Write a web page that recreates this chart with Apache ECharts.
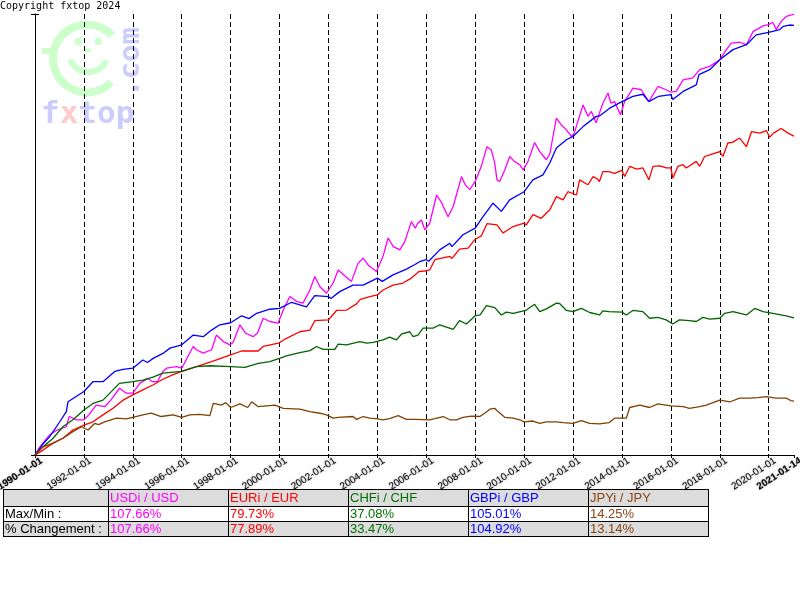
<!DOCTYPE html>
<html><head><meta charset="utf-8">
<script src="https://cdn.jsdelivr.net/npm/echarts@6/dist/echarts.min.js"></script>
<style>html,body{margin:0;padding:0;background:#fff}#c{width:800px;height:600px}</style>
</head><body><div id="c"></div>
<script>
// [decimal year, % change since 1990-01-01]
const usdData = [[1990.0,0],[1990.2,2.0],[1990.6,4.9],[1990.9,6.1],[1991.28,6.9],[1991.4,9.4],[1991.7,8.6],[1992.0,8.6],[1992.2,9.8],[1992.5,12.2],[1992.85,11.8],[1993.1,13.4],[1993.46,16.3],[1993.73,15.1],[1994.0,15.1],[1994.28,17.5],[1994.62,18.7],[1994.8,17.9],[1995.0,17.9],[1995.23,20.4],[1995.38,21.2],[1995.79,21.6],[1996.0,21.2],[1996.47,26.5],[1996.6,25.7],[1996.88,24.9],[1997.22,25.7],[1997.42,29.3],[1997.7,27.7],[1997.97,26.9],[1998.1,27.5],[1998.38,31.8],[1998.6,29.8],[1998.92,28.9],[1999.1,29.8],[1999.33,33.4],[1999.6,32.6],[1999.94,32.2],[2000.15,35.4],[2000.42,38.7],[2000.7,37.5],[2000.96,37.1],[2001.24,40.3],[2001.44,43.6],[2001.65,41.1],[2001.92,39.5],[2002.19,42.0],[2002.4,45.2],[2002.7,43.6],[2002.94,42.4],[2003.21,46.8],[2003.42,48.1],[2003.65,46.2],[2003.96,44.8],[2004.23,48.5],[2004.44,53.0],[2004.65,50.9],[2004.92,50.1],[2005.12,52.1],[2005.39,57.0],[2005.55,55.4],[2005.65,56.6],[2005.8,57.4],[2005.94,55.0],[2006.14,56.6],[2006.42,63.5],[2006.6,61.9],[2006.89,58.2],[2007.1,60.7],[2007.44,68.0],[2007.6,65.9],[2007.78,64.8],[2008.0,66.8],[2008.25,70.5],[2008.48,75.3],[2008.66,74.5],[2008.8,71.3],[2008.89,67.2],[2009.0,66.8],[2009.21,69.6],[2009.41,72.9],[2009.6,71.7],[2009.82,70.9],[2009.96,69.6],[2010.16,71.7],[2010.43,76.3],[2010.64,74.1],[2010.91,72.1],[2011.05,73.5],[2011.32,82.3],[2011.52,80.6],[2011.73,79.4],[2011.93,77.8],[2012.05,78.6],[2012.2,81.5],[2012.41,85.5],[2012.61,82.7],[2012.75,83.9],[2012.95,81.1],[2013.08,83.5],[2013.22,85.9],[2013.43,88.4],[2013.55,85.9],[2013.7,86.3],[2013.94,83.1],[2014.11,86.3],[2014.45,89.6],[2014.79,89.2],[2015.1,86.3],[2015.47,90.0],[2015.81,89.2],[2016.0,88.6],[2016.22,88.8],[2016.5,91.6],[2016.9,92.1],[2017.18,94.1],[2017.59,94.9],[2018.0,96.5],[2018.27,99.0],[2018.47,100.6],[2018.81,100.8],[2019.09,100.2],[2019.36,103.4],[2019.77,104.8],[2020.0,105.1],[2020.17,105.7],[2020.31,103.9],[2020.51,105.9],[2020.72,107.1],[2021.036,107.66]];
const eurData = [[1990.0,0],[1990.33,1.2],[1990.74,2.9],[1991.14,4.1],[1991.55,6.1],[1992.0,7.3],[1992.37,8.1],[1992.78,9.8],[1993.19,11.4],[1993.6,13.4],[1994.0,14.7],[1994.41,15.9],[1994.82,17.1],[1995.23,18.5],[1995.6,19.5],[1996.0,20.4],[1996.6,21.6],[1997.22,22.8],[1997.97,24.4],[1998.45,25.4],[1999.13,25.4],[1999.33,26.5],[2000.0,27.4],[2000.28,28.5],[2000.83,30.1],[2001.24,30.5],[2001.44,32.8],[2002.0,33.0],[2002.33,35.3],[2002.74,35.4],[2003.15,36.9],[2003.3,38.0],[2003.69,38.7],[2004.0,39.1],[2004.23,40.3],[2004.64,41.5],[2005.05,42.0],[2005.39,43.2],[2005.7,44.8],[2006.0,45.0],[2006.14,45.2],[2006.35,47.7],[2006.96,48.5],[2007.05,48.0],[2007.36,50.3],[2007.71,50.5],[2008.0,52.7],[2008.25,53.5],[2008.48,56.5],[2008.89,56.2],[2009.14,54.2],[2009.55,55.8],[2010.0,56.6],[2010.09,56.2],[2010.36,58.7],[2010.7,57.8],[2011.05,59.9],[2011.32,63.1],[2011.59,62.3],[2011.79,64.3],[2012.14,63.5],[2012.27,67.2],[2012.61,66.0],[2012.82,68.0],[2013.0,67.4],[2013.08,66.8],[2013.22,69.2],[2013.47,69.2],[2013.7,68.8],[2014.0,69.5],[2014.11,68.0],[2014.32,70.5],[2014.6,69.8],[2014.86,70.1],[2015.1,67.2],[2015.27,70.5],[2015.55,70.6],[2015.81,70.1],[2016.0,70.1],[2016.08,67.6],[2016.29,70.5],[2016.5,70.9],[2016.63,70.1],[2017.04,71.7],[2017.18,70.5],[2017.38,72.9],[2017.59,73.3],[2018.0,74.1],[2018.13,72.9],[2018.33,76.2],[2018.54,76.4],[2018.81,77.4],[2019.09,75.3],[2019.3,79.0],[2019.64,78.6],[2019.91,79.2],[2020.04,77.6],[2020.2,78.6],[2020.51,79.73],[2020.79,78.6],[2021.036,77.89]];
const chfData = [[1990.0,0],[1990.33,2.0],[1990.74,4.1],[1991.14,6.9],[1991.55,8.6],[1992.0,11.0],[1992.37,12.6],[1992.78,13.4],[1993.19,15.9],[1993.45,17.5],[1994.0,17.9],[1994.41,18.3],[1994.82,19.0],[1995.23,20.0],[1996.0,20.4],[1996.6,21.6],[1997.15,21.8],[1998.0,21.6],[1998.58,21.4],[1999.13,22.4],[1999.6,22.8],[2000.0,23.6],[2000.28,24.2],[2000.83,25.0],[2001.24,25.5],[2001.51,26.5],[2001.78,25.8],[2002.26,25.8],[2002.4,27.1],[2002.74,26.9],[2003.28,27.7],[2003.56,27.3],[2003.83,27.5],[2004.23,28.1],[2004.5,28.8],[2004.78,28.1],[2005.0,29.6],[2005.32,30.1],[2005.46,28.9],[2005.66,29.3],[2005.87,31.0],[2006.28,31.0],[2006.55,31.8],[2007.1,30.7],[2007.36,32.8],[2007.64,32.0],[2008.0,34.0],[2008.2,34.2],[2008.46,36.5],[2008.8,36.0],[2009.07,34.2],[2009.27,34.9],[2009.55,34.6],[2009.89,35.1],[2010.09,35.4],[2010.43,36.8],[2010.64,35.0],[2010.91,35.7],[2011.32,37.08],[2011.45,37.0],[2011.73,35.3],[2012.0,35.0],[2012.34,35.8],[2012.68,34.8],[2013.09,34.2],[2013.22,35.2],[2013.47,35.0],[2014.0,34.9],[2014.18,34.2],[2014.45,35.3],[2014.86,35.0],[2015.13,33.4],[2015.47,33.6],[2015.81,33.0],[2016.08,32.0],[2016.35,33.0],[2016.76,32.8],[2017.04,32.6],[2017.31,33.6],[2017.59,33.2],[2018.0,33.4],[2018.2,34.6],[2018.54,35.0],[2019.09,34.2],[2019.43,35.8],[2019.77,35.0],[2020.17,34.6],[2020.72,34.0],[2021.036,33.47]];
const gbpData = [[1990.0,0],[1990.3,2.5],[1990.6,4.5],[1991.0,8.0],[1991.28,10.6],[1991.35,13.0],[1992.0,15.5],[1992.37,17.9],[1992.78,17.9],[1993.26,20.4],[1993.6,20.9],[1994.0,21.2],[1994.41,23.2],[1994.6,22.6],[1994.83,23.6],[1995.23,24.8],[1995.52,26.1],[1996.0,26.9],[1996.47,29.3],[1996.88,28.9],[1997.22,30.5],[1997.56,31.8],[1998.0,32.3],[1998.45,34.0],[1998.75,33.3],[1999.06,34.6],[1999.6,35.6],[2000.0,35.8],[2000.49,37.3],[2001.1,36.2],[2001.44,38.9],[2002.0,38.7],[2002.1,38.2],[2002.46,39.9],[2003.0,41.5],[2003.42,41.5],[2004.0,43.2],[2004.2,42.4],[2004.64,44.0],[2005.19,45.4],[2005.5,46.4],[2005.73,47.2],[2006.0,47.7],[2006.1,47.3],[2006.55,50.1],[2006.96,51.7],[2007.05,50.9],[2007.5,53.8],[2008.0,55.4],[2008.32,58.2],[2008.73,61.5],[2009.07,59.5],[2009.41,62.3],[2010.0,64.3],[2010.36,67.2],[2010.77,68.4],[2011.05,71.3],[2011.32,75.0],[2011.73,77.0],[2012.0,77.8],[2012.41,80.2],[2012.95,82.7],[2013.08,82.8],[2013.5,84.7],[2014.0,86.3],[2014.45,87.6],[2014.86,88.1],[2015.1,86.3],[2015.5,87.6],[2016.0,88.0],[2016.08,86.8],[2016.5,88.8],[2017.04,90.4],[2017.15,92.9],[2017.59,94.1],[2018.0,96.5],[2018.54,99.0],[2019.09,100.2],[2019.49,102.6],[2020.0,103.2],[2020.45,103.9],[2020.6,104.7],[2020.85,105.01],[2021.036,104.92]];
const jpyData = [[1990.0,0],[1990.33,2.0],[1990.74,2.9],[1991.14,4.1],[1991.55,5.7],[1991.9,6.9],[1992.17,6.1],[1992.44,7.7],[1992.6,7.4],[1992.85,8.1],[1993.33,9.0],[1993.73,8.8],[1994.0,9.2],[1994.41,9.8],[1994.75,10.2],[1995.16,9.4],[1995.65,9.8],[1996.0,9.2],[1996.33,9.8],[1996.74,9.9],[1997.15,9.6],[1997.29,12.6],[1997.63,12.2],[1997.8,12.8],[1998.0,11.6],[1998.38,12.5],[1998.7,11.6],[1998.86,13.0],[1999.13,11.8],[1999.81,12.2],[2000.15,11.4],[2000.83,11.2],[2001.24,10.6],[2001.65,10.2],[2001.92,9.8],[2002.19,9.0],[2002.4,9.2],[2003.0,9.4],[2003.15,8.7],[2003.42,9.4],[2003.69,9.0],[2004.0,8.8],[2004.23,8.6],[2004.5,8.9],[2004.85,9.6],[2005.19,8.7],[2005.6,8.7],[2006.14,8.6],[2006.35,8.9],[2006.69,9.4],[2006.96,8.6],[2007.23,8.6],[2007.5,9.2],[2007.84,9.5],[2008.19,9.4],[2008.39,10.2],[2008.6,11.2],[2008.8,11.4],[2008.93,10.6],[2009.21,9.2],[2009.55,9.0],[2009.82,8.6],[2010.0,8.1],[2010.36,8.3],[2010.64,7.7],[2010.91,8.1],[2011.32,8.1],[2011.6,7.9],[2012.0,7.7],[2012.34,8.4],[2012.68,7.7],[2013.09,7.6],[2013.47,7.9],[2013.7,9.0],[2014.18,9.0],[2014.32,11.6],[2014.73,12.2],[2015.13,11.6],[2015.47,12.5],[2016.0,12.0],[2016.08,11.6],[2016.5,11.8],[2016.76,11.4],[2017.18,11.8],[2017.45,12.2],[2018.0,13.4],[2018.43,13.0],[2018.81,13.9],[2019.22,13.9],[2019.56,14.0],[2019.91,14.25],[2020.31,13.9],[2020.72,13.9],[2020.9,13.3],[2021.036,13.14]];

const seriesNames = ['USDi / USD','EURi / EUR','CHFi / CHF','GBPi / GBP','JPYi / JPY'];
const maxMinValues = ['107.66%','79.73%','37.08%','105.01%','14.25%'];
const changeValues = ['107.66%','77.89%','33.47%','104.92%','13.14%'];
const rowLabels = ['Max/Min :','% Changement :'];
const xStart = 1990, xEnd = 2021.036;
const startLabel = '1990-01-01', endLabel = '2021-01-14';

const lineColors = ['#ff00ff','#ff0000','#006400','#0000ff','#804000'];
const textColors = ['#ff00ff','#ff0000','#007000','#0000ff','#8b4513'];
const allData = [usdData, eurData, chfData, gbpData, jpyData];

const chart = echarts.init(document.getElementById('c'), null, {renderer:'canvas'});

// table graphics
const colX = [3,108,228,348,468,588,708];
const rowY = [489,506,521,536];
const tbl = [];
const rowFill = ['#dcdcdc','#ffffff','#dcdcdc'];
for (let r=0;r<3;r++) {
  tbl.push({type:'rect', shape:{x:colX[0], y:rowY[r], width:colX[6]-colX[0], height:rowY[r+1]-rowY[r]}, style:{fill:rowFill[r]}, silent:true});
}
for (let r=0;r<4;r++) {
  tbl.push({type:'line', shape:{x1:colX[0], y1:rowY[r]+0.5, x2:colX[6]+1, y2:rowY[r]+0.5}, style:{stroke:'#000', lineWidth:1}, silent:true});
}
for (let c=0;c<7;c++) {
  tbl.push({type:'line', shape:{x1:colX[c]+0.5, y1:rowY[0], x2:colX[c]+0.5, y2:rowY[3]+1}, style:{stroke:'#000', lineWidth:1}, silent:true});
}
const tFont = '13px "Liberation Sans", Arial, sans-serif';
for (let i=0;i<5;i++) {
  tbl.push({type:'text', x:colX[i+1]+2, y:rowY[1]-1, style:{text:seriesNames[i], fill:textColors[i], font:tFont, textVerticalAlign:'bottom'}, silent:true});
  tbl.push({type:'text', x:colX[i+1]+2, y:rowY[2], style:{text:maxMinValues[i], fill:textColors[i], font:tFont, textVerticalAlign:'bottom'}, silent:true});
  tbl.push({type:'text', x:colX[i+1]+2, y:rowY[3], style:{text:changeValues[i], fill:textColors[i], font:tFont, textVerticalAlign:'bottom'}, silent:true});
}
tbl.push({type:'text', x:colX[0]+2, y:rowY[2], style:{text:rowLabels[0], fill:'#000', font:tFont, textVerticalAlign:'bottom'}, silent:true});
tbl.push({type:'text', x:colX[0]+2, y:rowY[3], style:{text:rowLabels[1], fill:'#000', font:tFont, textVerticalAlign:'bottom'}, silent:true});

// watermark logo
const green = '#ccffcc', lav = '#ccccff';
const logo = [
  {type:'arc', z:-10, shape:{cx:87, cy:58.5, r:34, startAngle:Math.PI/4, endAngle:2*Math.PI-0.74, clockwise:true}, style:{stroke:green, lineWidth:8, fill:null}, silent:true},
  {type:'rect', z:-10, shape:{x:42, y:48, width:15, height:6}, style:{fill:green}, silent:true},
  {type:'circle', z:-10, shape:{cx:78.5, cy:41.5, r:3.8}, style:{fill:green}, silent:true},
  {type:'circle', z:-10, shape:{cx:98.3, cy:41.5, r:3.8}, style:{fill:green}, silent:true},
  {type:'rect', z:-10, shape:{x:85, y:48.5, width:6, height:3.5}, style:{fill:green}, silent:true},
  {type:'arc', z:-10, shape:{cx:88.5, cy:52, r:20, startAngle:0.45, endAngle:2.75, clockwise:true}, style:{stroke:green, lineWidth:6, fill:null}, silent:true},
  {type:'text', z:-10, x:41, y:130, style:{text:'{a|f}{b|x}{a|top}', rich:{a:{fill:lav, font:'bold 31px "DejaVu Sans Mono", monospace'}, b:{fill:'#ffcccc', font:'bold 31px "DejaVu Sans Mono", monospace'}}, textVerticalAlign:'bottom'}, silent:true},
  {type:'text', z:-10, x:131, y:62, rotation:Math.PI/2, style:{text:'.com', fill:lav, font:'bold 29px "DejaVu Sans Mono", monospace', textAlign:'center', textVerticalAlign:'middle'}, silent:true},
  {type:'text', x:0, y:1, style:{text:'Copyright fxtop 2024', fill:'#000', font:'10px "DejaVu Sans Mono", monospace'}, silent:true}
];

const option = {
  animation:false,
  backgroundColor:'#fff',
  grid:{left:35, right:6, top:14, bottom:145, containLabel:false, outerBoundsMode:'none'},
  xAxis:{
    type:'value', min:xStart, max:xEnd, interval:2,
    axisLine:{show:true, onZero:false, lineStyle:{color:'#000', width:1}},
    axisTick:{show:true, length:3, lineStyle:{color:'#000'}},
    splitLine:{show:true, showMinLine:false, showMaxLine:false, lineStyle:{color:'#000', type:[5,3], width:1}},
    axisLabel:{
      rotate:33, margin:2, verticalAlign:'top', padding:[1,-4,0,0], fontSize:10, fontFamily:'"Liberation Sans", Arial, sans-serif', color:'#000',
      textShadowColor:'rgba(0,0,0,0.5)', textShadowBlur:2,
      showMinLabel:true, showMaxLabel:true, hideOverlap:false,
      formatter:function(v){
        if (Math.abs(v-xEnd)<1e-6) return '{b|'+endLabel+'}';
        if (Math.abs(v-xStart)<1e-6) return '{b|'+startLabel+'}';
        return Math.round(v)+'-01-01';
      },
      rich:{b:{fontWeight:'bold', fontSize:10, color:'#000', fontFamily:'"Liberation Sans", Arial, sans-serif'}}
    }
  },
  yAxis:[{
    type:'value', min:0, max:107.7, interval:107.7,
    axisLine:{show:true, lineStyle:{color:'#000', width:1}},
    axisTick:{show:true, length:4, lineStyle:{color:'#000'}},
    axisLabel:{show:false}, splitLine:{show:false}
  },{
    type:'value', min:0, max:107.7, interval:107.7, position:'left',
    axisLine:{show:false},
    axisTick:{show:true, inside:true, length:4, lineStyle:{color:'#000'}},
    axisLabel:{show:false}, splitLine:{show:false}
  }],
  graphic: logo.concat(tbl),
  series: allData.map((d,i)=>({
    name:seriesNames[i], type:'line', data:d, showSymbol:false, symbol:'none',
    lineStyle:{color:lineColors[i], width:1.3}, itemStyle:{color:lineColors[i]},
    z:2+i, silent:true
  }))
};
chart.setOption(option);
</script></body></html>
